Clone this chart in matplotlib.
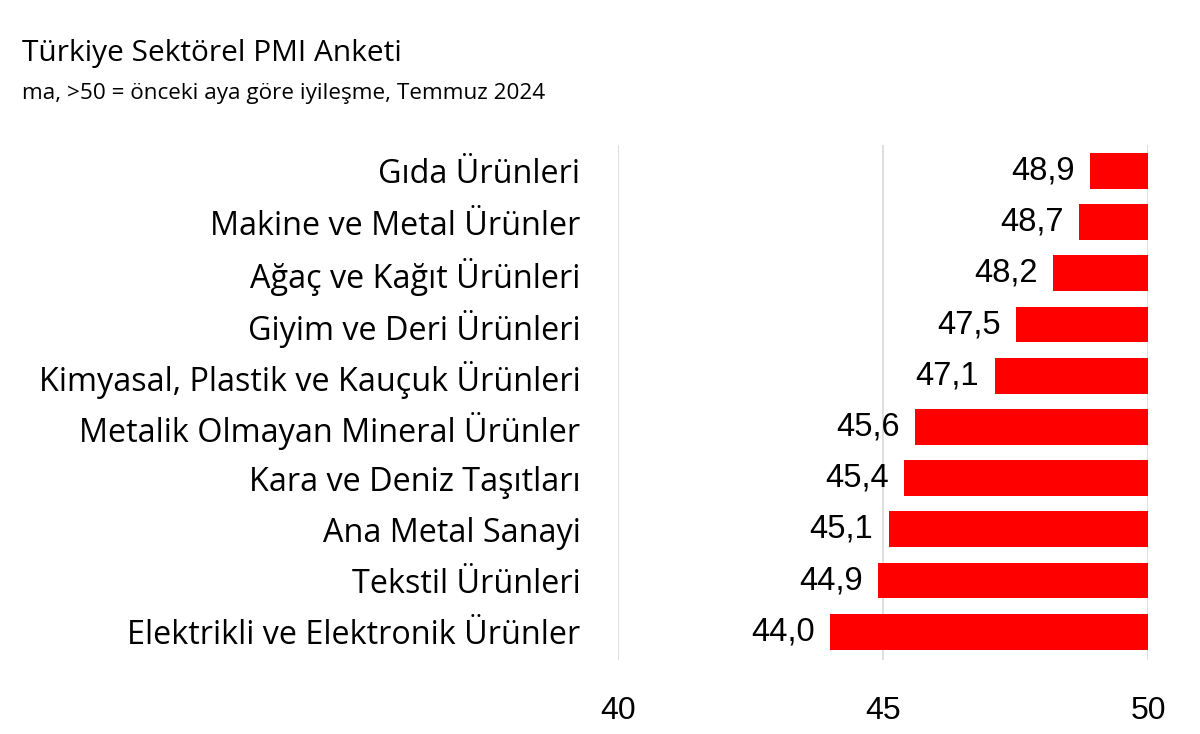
import matplotlib
matplotlib.use("Agg")
import matplotlib.pyplot as plt

# data (top to bottom as in the chart)
sectors = [
    "Gıda Ürünleri",
    "Makine ve Metal Ürünler",
    "Ağaç ve Kağıt Ürünleri",
    "Giyim ve Deri Ürünleri",
    "Kimyasal, Plastik ve Kauçuk Ürünleri",
    "Metalik Olmayan Mineral Ürünler",
    "Kara ve Deniz Taşıtları",
    "Ana Metal Sanayi",
    "Tekstil Ürünleri",
    "Elektrikli ve Elektronik Ürünler",
]
pmi = [48.9, 48.7, 48.2, 47.5, 47.1, 45.6, 45.4, 45.1, 44.9, 44.0]
x_ticks = [40, 45, 50]

baseline = 50
n = len(sectors)
ypos = list(range(n - 1, -1, -1))

fig = plt.figure(figsize=(12, 7.34), dpi=100)
ax = fig.add_axes([0.515, 0.101, 0.442, 0.701])

widths = [v - baseline for v in pmi]
ax.barh(ypos, widths, left=baseline, height=0.7, color="#ff0000", zorder=3)

for y, v in zip(ypos, pmi):
    ax.annotate(f"{v:.1f}".replace(".", ","), xy=(v, y), xytext=(-11, 0),
                textcoords="offset points", ha="right", va="center",
                fontsize=23.5, family="Liberation Sans", color="black")

ax.set_xlim(40, 50)
ax.set_ylim(-0.55, n - 0.5)
ax.set_xticks(x_ticks)
ax.set_xticklabels([str(t) for t in x_ticks], fontsize=23, family="Liberation Sans")
ax.set_yticks(ypos)
ax.set_yticklabels(sectors, fontsize=23.3, family="Open Sans")
ax.tick_params(axis="x", length=0, pad=26)
ax.tick_params(axis="y", length=0, pad=27)
ax.grid(axis="x", color="#d9d9d9", linewidth=1.2, zorder=0)
for s in ax.spines.values():
    s.set_visible(False)

fig.text(0.018, 0.927, "Türkiye Sektörel PMI Anketi", fontsize=21.5,
         family="Open Sans", va="center", ha="left")
fig.text(0.018, 0.873, "ma, >50 = önceki aya göre iyileşme, Temmuz 2024",
         fontsize=16.2, family="Open Sans", va="center", ha="left")

fig.savefig("out.png", dpi=100)
